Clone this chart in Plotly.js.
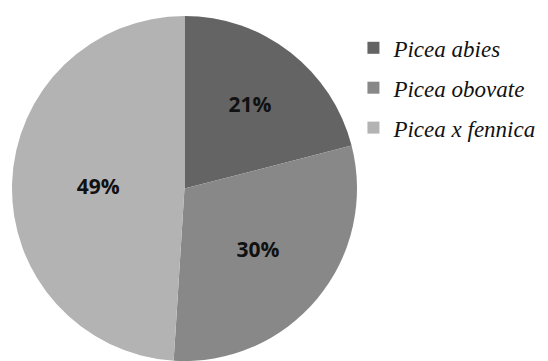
<!DOCTYPE html>
<html><head><meta charset="utf-8">
<script src="https://cdn.plot.ly/plotly-3.0.1.min.js"></script>
<style>html,body{margin:0;padding:0;background:#fff;}</style>
</head><body>
<div id="chart" style="width:548px;height:361px;"></div>
<script>
const species = ["Picea abies", "Picea obovate", "Picea x fennica"];
const shares = [21, 30, 49];
const colors = ["#646464", "#888888", "#b3b3b3"];

const serifStack = "'Liberation Serif', 'Times New Roman', 'DejaVu Serif'";

const trace = {
  type: "pie",
  labels: species,
  values: shares,
  sort: false,
  direction: "clockwise",
  rotation: 0,
  marker: {colors: colors, line: {width: 0}},
  textinfo: "percent",
  texttemplate: "%{percent:.0%}",
  textposition: "inside",
  insidetextorientation: "horizontal",
  insidetextfont: {family: "Open Sans", size: 21, color: "#111", weight: "bold"},
  domain: {x: [0, 345/536], y: [0, 1]},
  hoverinfo: "none"
};

const layout = {
  width: 548, height: 361,
  margin: {l: 12, r: 0, t: 16, b: 0, autoexpand: false},
  paper_bgcolor: "#fff",
  showlegend: true,
  legend: {
    x: 0.637, y: 0.97, xanchor: "left", yanchor: "top",
    font: {family: serifStack, size: 23, color: "#111", style: "italic"},
    itemwidth: 30,
    bgcolor: "rgba(0,0,0,0)"
  }
};

Plotly.newPlot("chart", [trace], layout, {displayModeBar: false, staticPlot: true}).then(function(gd) {
  const items = gd.querySelectorAll(".legend .traces");
  const box = gd.querySelector(".legend .scrollbox");
  if (box) box.removeAttribute("clip-path");
  items.forEach(function(el, i) {
    const t = el.querySelector("text.legendtext");
    if (t) { t.style.fontFamily = serifStack; t.style.fontStyle = "italic"; }
    const m = /translate\(([-\d.]+),\s*([-\d.]+)\)/.exec(el.getAttribute("transform") || "");
    if (m) el.setAttribute("transform", "translate(" + m[1] + "," + (parseFloat(m[2]) + i * 7) + ")");
  });
});
</script>
</body></html>
